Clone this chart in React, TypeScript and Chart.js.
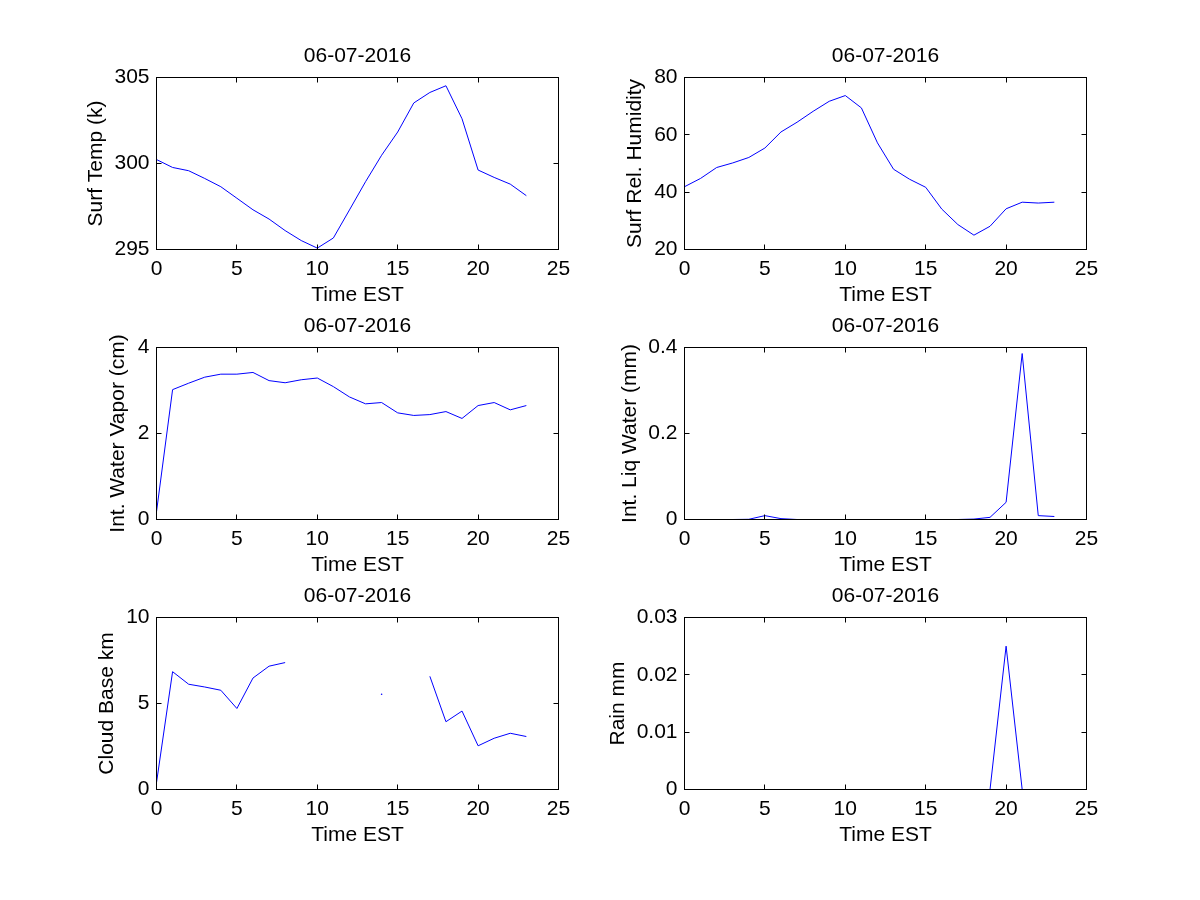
import React, { useEffect, useRef } from 'react';
import { Chart, registerables } from 'chart.js';

Chart.register(...registerables);

// ---- data ----
const hours = [0, 1, 2, 3, 4, 5, 6, 7, 8, 9, 10, 11, 12, 13, 14, 15, 16, 17, 18, 19, 20, 21, 22, 23];
const xTicks = [0, 5, 10, 15, 20, 25];
const dateTitle = '06-07-2016';
const xAxisLabel = 'Time EST';

const surfTemp = [300.23, 299.77, 299.58, 299.13, 298.65, 297.98, 297.31, 296.77, 296.1, 295.52, 295.08,
  295.67, 297.3, 298.94, 300.48, 301.83, 303.52, 304.13, 304.52, 302.6, 299.62, 299.19, 298.8, 298.13];
const surfRH = [41.9, 44.8, 48.6, 50.2, 52.1, 55.4, 61.0, 64.4, 68.2, 71.7, 73.7, 69.4, 57.2, 48.0,
  44.5, 41.7, 34.1, 28.7, 25.0, 28.1, 34.2, 36.5, 36.2, 36.5];
const waterVapor = [0.18, 3.02, 3.17, 3.31, 3.38, 3.38, 3.42, 3.23, 3.18, 3.25, 3.29, 3.09, 2.85, 2.69,
  2.72, 2.48, 2.42, 2.44, 2.51, 2.35, 2.65, 2.72, 2.55, 2.65];
const liqWater = [0, 0, 0, 0, 0.0005, 0.009, 0.002, 0, 0, 0, 0, 0, 0, 0, 0, 0, 0, 0, 0.001, 0.005,
  0.04, 0.386, 0.009, 0.007];
const cloudBase = [0.4, 6.85, 6.12, 5.96, 5.77, 4.71, 6.48, 7.17, 7.38, null, null, null, null, null,
  5.54, null, null, 6.58, 3.94, 4.56, 2.54, 2.98, 3.27, 3.08];
const rain = [0, 0, 0, 0, 0, 0, 0, 0, 0, 0, 0, 0, 0, 0, 0, 0, 0, 0, 0, 0, 0.025, 0, 0, 0];

const yLabels = ['Surf Temp (k)', 'Surf Rel. Humidity', 'Int. Water Vapor (cm)', 'Int. Liq Water (mm)', 'Cloud Base km', 'Rain mm'];
const yMins = [295, 20, 0, 0, 0, 0];
const yMaxs = [305, 80, 4, 0.4, 10, 0.03];
const ySteps = [5, 20, 2, 0.2, 5, 0.01];
const seriesList = [surfTemp, surfRH, waterVapor, liqWater, cloudBase, rain];

// ---- layout (not data) ----
const W = 1200;
const H = 900;
const FONT_SIZE = 21;
const LH = FONT_SIZE * 1.2;
const X_AXIS_H = 70;
const areas = [
  { left: 156.5, top: 77.5, right: 558.5, bottom: 249.5 },
  { left: 684.5, top: 77.5, right: 1086.5, bottom: 249.5 },
  { left: 156.5, top: 347.5, right: 558.5, bottom: 519.5 },
  { left: 684.5, top: 347.5, right: 1086.5, bottom: 519.5 },
  { left: 156.5, top: 617.5, right: 558.5, bottom: 789.5 },
  { left: 684.5, top: 617.5, right: 1086.5, bottom: 789.5 },
];
const yTitleCenters = [96, 635.5, 118.5, 630, 107.5, 618];

const FONT_FAMILY = '"Liberation Sans", Arial, Helvetica, sans-serif';

const boxPlugin = {
  id: 'matlabBox',
  afterDatasetsDraw(chart: any) {
    const { ctx, chartArea: a } = chart;
    const xs = chart.scales.x;
    const ys = chart.scales.y;
    ctx.save();
    ctx.strokeStyle = '#000';
    ctx.lineWidth = 1;
    ctx.strokeRect(a.left, a.top, a.right - a.left, a.bottom - a.top);
    ctx.beginPath();
    const tl = 5;
    xs.ticks.forEach((t: any) => {
      const px = Math.floor(xs.getPixelForValue(t.value)) + 0.5;
      ctx.moveTo(px, a.bottom);
      ctx.lineTo(px, a.bottom - tl);
      ctx.moveTo(px, a.top);
      ctx.lineTo(px, a.top + tl);
    });
    ys.ticks.forEach((t: any) => {
      const py = Math.floor(ys.getPixelForValue(t.value)) + 0.5;
      ctx.moveTo(a.left, py);
      ctx.lineTo(a.left + tl, py);
      ctx.moveTo(a.right, py);
      ctx.lineTo(a.right - tl, py);
    });
    ctx.stroke();
    ctx.fillStyle = '#000';
    ctx.font = `${FONT_SIZE}px ${FONT_FAMILY}`;
    ctx.textAlign = 'center';
    ctx.textBaseline = 'alphabetic';
    ctx.fillText(dateTitle, (a.left + a.right) / 2, a.top - 15.5);
    ctx.restore();
  },
};

function Panel({ idx }: { idx: number }) {
  const ref = useRef<HTMLCanvasElement | null>(null);
  useEffect(() => {
    if (!ref.current) return;
    const a = areas[idx];
    const values = seriesList[idx];
    const data = hours.map((h, i) => ({ x: h, y: values[i] }));
    const chart = new Chart(ref.current, {
      type: 'line',
      data: {
        datasets: [
          {
            data,
            borderColor: '#0000ff',
            backgroundColor: '#0000ff',
            borderWidth: 1,
            fill: false,
            tension: 0,
            spanGaps: false,
            pointBorderWidth: 0,
            pointBackgroundColor: '#0000ff',
            pointRadius: (c: any) => {
              const d = c.dataset.data;
              const i = c.dataIndex;
              const v = d[i] ? d[i].y : null;
              if (v == null) return 0;
              const p = i > 0 ? d[i - 1].y : null;
              const n = i < d.length - 1 ? d[i + 1].y : null;
              return p == null && n == null ? 0.8 : 0;
            },
            pointHoverRadius: 0,
          } as any,
        ],
      },
      options: {
        responsive: false,
        animation: false,
        devicePixelRatio: 1,
        events: [],
        layout: {
          padding: {
            left: 0,
            top: a.top,
            right: W - a.right,
            bottom: H - a.bottom - X_AXIS_H,
          },
        },
        plugins: {
          legend: { display: false },
          tooltip: { enabled: false },
          title: { display: false },
        },
        scales: {
          x: {
            type: 'linear',
            min: 0,
            max: 25,
            afterBuildTicks: (s: any) => {
              s.ticks = xTicks.map((v) => ({ value: v }));
            },
            afterFit: (s: any) => {
              s.height = X_AXIS_H;
            },
            grid: { display: false, drawTicks: false },
            border: { display: false },
            ticks: {
              padding: 7,
              maxRotation: 0,
              autoSkip: false,
              color: '#000',
              font: { family: FONT_FAMILY, size: FONT_SIZE },
            },
            title: {
              display: true,
              text: xAxisLabel,
              color: '#000',
              font: { family: FONT_FAMILY, size: FONT_SIZE, lineHeight: 1.2 },
              padding: { top: 0, bottom: X_AXIS_H - LH / 2 - 46 },
            },
          },
          y: {
            type: 'linear',
            min: yMins[idx],
            max: yMaxs[idx],
            ticks: {
              stepSize: ySteps[idx],
              padding: 7,
              color: '#000',
              font: { family: FONT_FAMILY, size: FONT_SIZE },
            },
            afterFit: (s: any) => {
              s.width = a.left;
            },
            grid: { display: false, drawTicks: false },
            border: { display: false },
            title: {
              display: true,
              text: yLabels[idx],
              color: '#000',
              font: { family: FONT_FAMILY, size: FONT_SIZE, lineHeight: 1.2 },
              padding: { top: yTitleCenters[idx] - LH / 2, bottom: 0 },
            },
          },
        },
      } as any,
      plugins: [boxPlugin],
    });
    return () => chart.destroy();
  }, [idx]);
  return (
    <canvas
      ref={ref}
      width={W}
      height={H}
      style={{ position: 'absolute', left: 0, top: 0, width: W, height: H }}
    />
  );
}

export default function App() {
  return (
    <div
      style={{
        position: 'fixed',
        left: 0,
        top: 0,
        width: W,
        height: H,
        background: '#fff',
        overflow: 'hidden',
      }}
    >
      {areas.map((_, i) => (
        <Panel key={i} idx={i} />
      ))}
    </div>
  );
}
